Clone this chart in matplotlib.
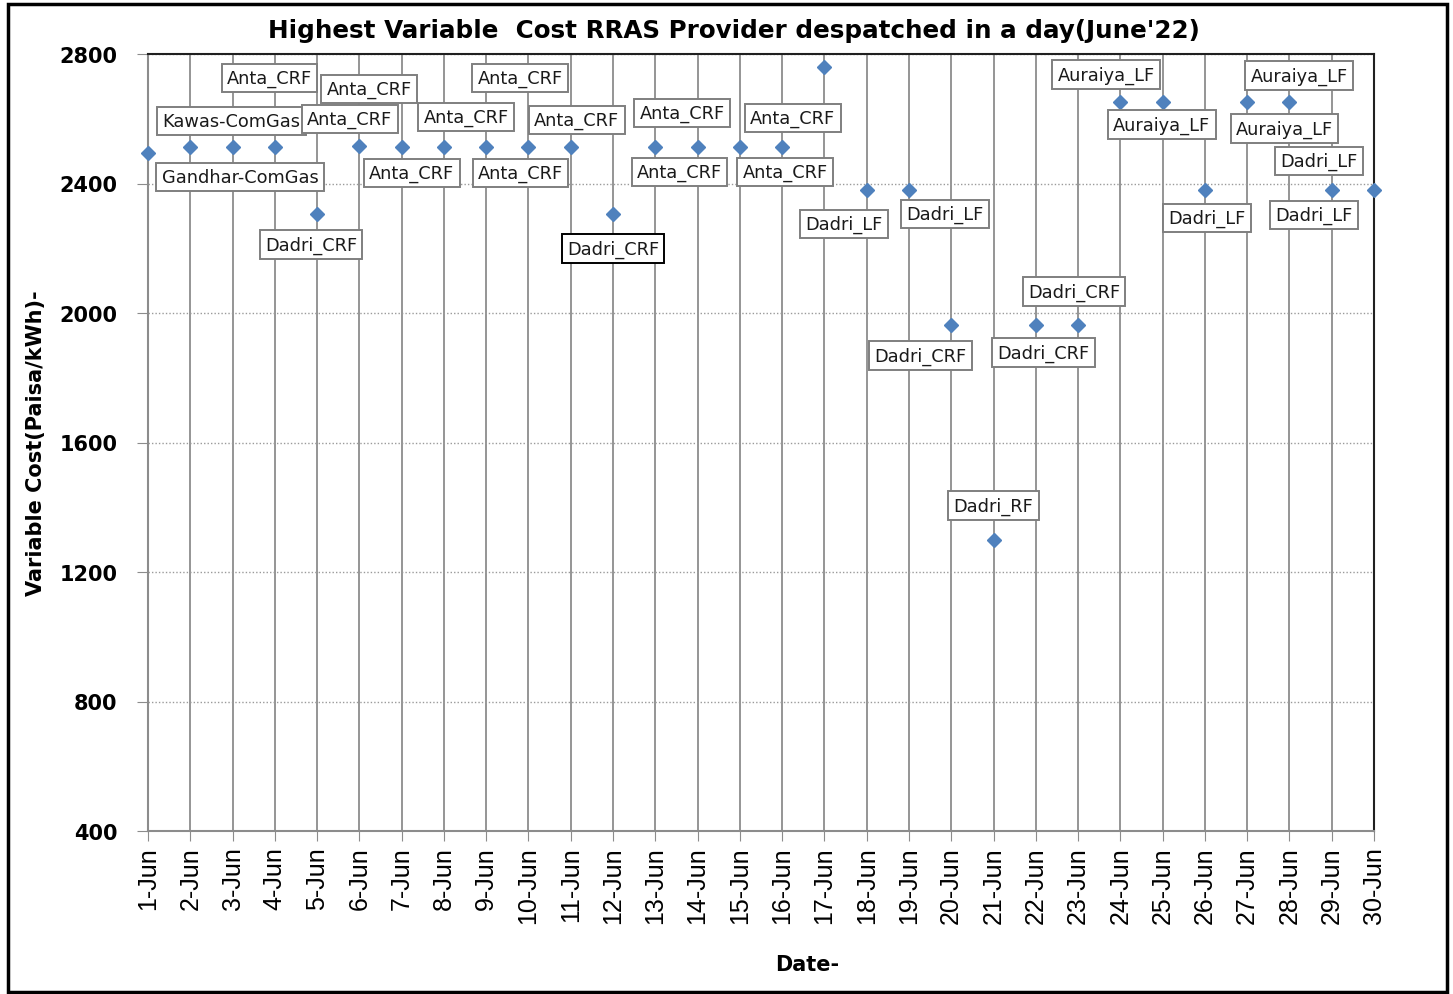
import matplotlib.pyplot as plt
from matplotlib.patches import Rectangle

# ---------------------------------------------------------------------------
# Data
# ---------------------------------------------------------------------------
days = list(range(1, 31))
day_labels = [f'{d}-Jun' for d in days]

cost = [2494, 2513, 2513, 2513, 2306, 2516, 2513, 2513, 2513, 2513,
        2513, 2306, 2513, 2513, 2513, 2513, 2760, 2380, 2380, 1964,
        1300, 1964, 1964, 2652, 2652, 2380, 2652, 2652, 2380, 2380]

provider = ['Gandhar-ComGas', 'Kawas-ComGas', 'Anta_CRF', 'Anta_CRF', 'Dadri_CRF',
            'Anta_CRF', 'Anta_CRF', 'Anta_CRF', 'Anta_CRF', 'Anta_CRF',
            'Anta_CRF', 'Dadri_CRF', 'Anta_CRF', 'Anta_CRF', 'Anta_CRF',
            'Anta_CRF', '', 'Dadri_LF', 'Dadri_LF', 'Dadri_CRF',
            'Dadri_RF', 'Dadri_CRF', 'Dadri_CRF', 'Auraiya_LF', 'Auraiya_LF',
            'Dadri_LF', 'Auraiya_LF', 'Auraiya_LF', 'Dadri_LF', 'Dadri_LF']

# label offsets from each point, in pixels (dx right, dy up)
label_dx = [92, 41, 37, 75, -6, 10, 10, 22, 34, -8, 6, 0, 27, -18, 53, 3,
            0, -23, 36, -31, 0, 8, -4, -14, -1, 2, 52, -5, -18, -55]
label_dy = [-24, 26, 69, 28, -31, 57, -26, 30, 69, -26, 27, -35, 34, -25, 29, -25,
            0, -34, -24, -31, 34, -28, 33, 27, -23, -28, 26, -27, -25, 29]

# ---------------------------------------------------------------------------
# Figure
# ---------------------------------------------------------------------------
fig = plt.figure(figsize=(14.53, 9.95), dpi=100)
ax = fig.add_axes([148 / 1453, 1 - 832 / 995, (1374 - 148) / 1453, (832 - 55) / 995])

ax.plot(days, cost, linestyle='none', marker='D', markersize=7.5,
        color='#4F81BD', clip_on=False, zorder=4)

for d, c, name, dx, dy, in zip(days, cost, provider, label_dx, label_dy):
    if not name:
        continue
    edge = 'black' if d == 12 else '#7f7f7f'
    ax.annotate(name, xy=(d, c), xytext=(dx, dy), textcoords='offset pixels',
                ha='center', va='center', fontsize=12.8, color='#1a1a1a',
                bbox=dict(boxstyle='square,pad=0.3', facecolor='white',
                          edgecolor=edge, linewidth=1.4), zorder=5)

ax.set_xlim(1, 30)
ax.set_ylim(400, 2800)
ax.set_xticks(days)
ax.set_xticklabels(day_labels, rotation=90, fontsize=18, family='Liberation Sans')
ax.set_yticks([400, 800, 1200, 1600, 2000, 2400, 2800])
ax.set_yticklabels(['400', '800', '1200', '1600', '2000', '2400', '2800'],
                   fontsize=15, fontweight='bold')
ax.tick_params(axis='x', length=7, color='#8c8c8c', pad=4)
ax.tick_params(axis='y', length=8, color='#8c8c8c', pad=14)

ax.grid(axis='x', color='#8c8c8c', linewidth=1.3, linestyle='-')
ax.grid(axis='y', color='#9a9a9a', linewidth=1.0, linestyle=(0, (1, 1.5)))
ax.set_axisbelow(True)

ax.spines['left'].set_color('#8c8c8c')
ax.spines['bottom'].set_color('#8c8c8c')
ax.spines['top'].set_color('#202020')
ax.spines['right'].set_color('#202020')
for s in ax.spines.values():
    s.set_linewidth(1.5)

ax.set_xlabel('Date-', fontsize=15, fontweight='bold', labelpad=22, x=0.538)
ax.set_ylabel('Variable Cost(Paisa/kWh)-', fontsize=15, fontweight='bold', labelpad=10)
ax.set_title("Highest Variable  Cost RRAS Provider despatched in a day(June'22)",
             fontsize=17.7, fontweight='bold', pad=12, x=0.478)

# outer border of the picture
fig.patches.append(Rectangle((8 / 1453, 2 / 995), 1439 / 1453, 988 / 995,
                             transform=fig.transFigure, fill=False,
                             edgecolor='black', linewidth=2.5))

plt.savefig('out.png', dpi=100)
